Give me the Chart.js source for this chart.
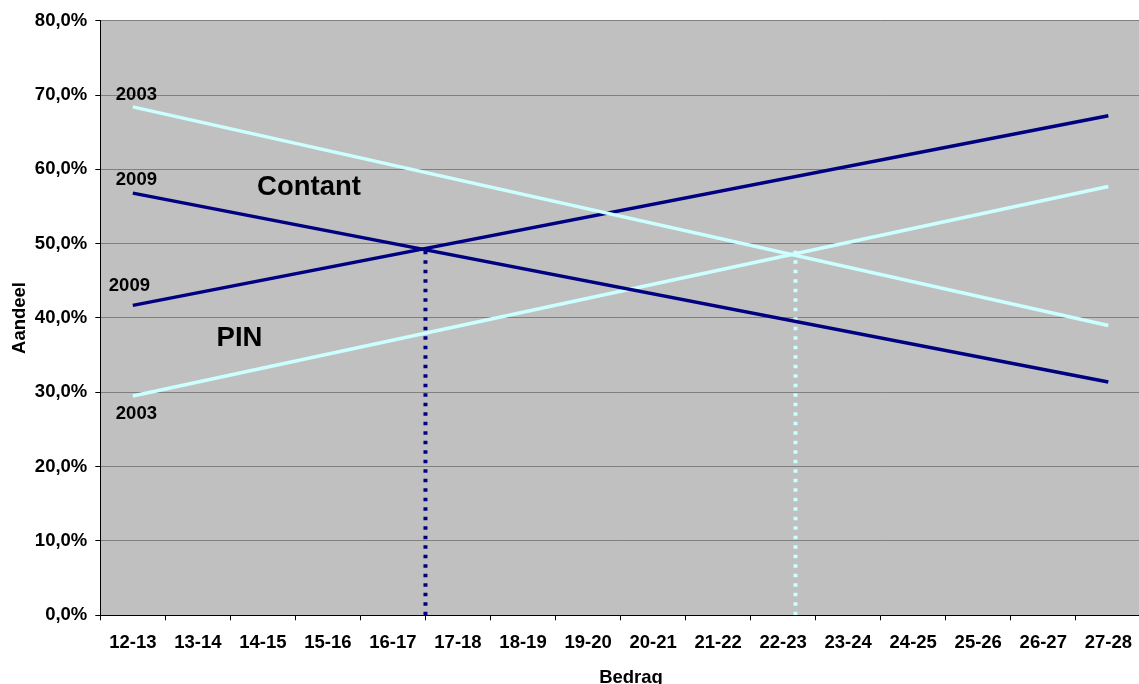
<!DOCTYPE html>
<html>
<head>
<meta charset="utf-8">
<script src="https://cdn.jsdelivr.net/npm/chart.js@4/dist/chart.umd.min.js"></script>
<style>
  html, body { margin: 0; padding: 0; background: #ffffff; overflow: hidden; }
  #wrap { width: 1144px; height: 688px; }
</style>
</head>
<body>
<div id="wrap"><canvas id="c" width="1144" height="688"></canvas></div>
<script>
// Amount brackets (euro) on the horizontal axis
const categories = ['12-13','13-14','14-15','15-16','16-17','17-18','18-19','19-20',
                    '20-21','21-22','22-23','23-24','24-25','25-26','26-27','27-28'];

// Trend lines: share (%) at the first and last bracket
const trendIndex     = [0, 15];
const contant2003    = [68.4, 39.0];
const contant2009    = [56.8, 31.4];
const pin2009        = [41.7, 67.2];
const pin2003        = [29.5, 57.7];

// Break-even points where cash and PIN lines cross (bracket position, share %)
const breakEven2009  = [4.5, 49.4];
const breakEven2003  = [10.19, 49.2];

// Vertical axis ticks
const yMin = 0, yMax = 80, yStep = 10;

const NAVY = '#000080';
const CYAN = '#CCFFFF';
const FONT = "'Liberation Sans', Arial, Helvetica, sans-serif";
const SMALL = 18.5;
const LARGE = 27.5;

function trend(values) {
  return trendIndex.map((x, i) => ({ x: x, y: values[i] }));
}
function dropLine(pt) {
  return [{ x: pt[0], y: 0 }, { x: pt[0], y: pt[1] }];
}

const plotBackground = {
  id: 'plotBackground',
  beforeDraw(chart) {
    const { ctx, chartArea: a } = chart;
    ctx.save();
    ctx.fillStyle = '#C0C0C0';
    ctx.fillRect(a.left, a.top, a.right - a.left, a.bottom - a.top);
    ctx.restore();
  }
};

// Text labels placed next to the trend lines
const lineLabels = {
  id: 'lineLabels',
  afterDatasetsDraw(chart) {
    const { ctx, scales } = chart;
    const xs = scales.x2, ys = scales.y;
    ctx.save();
    ctx.fillStyle = '#000000';
    ctx.textBaseline = 'alphabetic';

    ctx.font = 'bold ' + SMALL + 'px ' + FONT;
    ctx.textAlign = 'left';
    const x0 = xs.getPixelForValue(trendIndex[0]);
    ctx.fillText('2003', x0 - 17, ys.getPixelForValue(contant2003[0]) - 7);
    ctx.fillText('2009', x0 - 17, ys.getPixelForValue(contant2009[0]) - 8);
    ctx.fillText('2009', x0 - 24, ys.getPixelForValue(pin2009[0]) - 14);
    ctx.fillText('2003', x0 - 17, ys.getPixelForValue(pin2003[0]) + 23);

    ctx.font = 'bold ' + LARGE + 'px ' + FONT;
    ctx.textAlign = 'center';
    ctx.fillText('Contant', xs.getPixelForValue(2.71), ys.getPixelForValue(56.5));
    ctx.fillText('PIN', xs.getPixelForValue(1.64), ys.getPixelForValue(36.2));

    // horizontal axis title
    ctx.font = 'bold ' + SMALL + 'px ' + FONT;
    ctx.fillText('Bedrag', 631, 683);
    ctx.restore();
  }
};

const lineStyle = (label, data, color) => ({
  label: label, data: data, xAxisID: 'x2', yAxisID: 'y',
  borderColor: color, backgroundColor: color, borderWidth: 3.5,
  pointRadius: 0, pointHoverRadius: 0, fill: false, tension: 0
});
const dotStyle = (label, data, color) => ({
  label: label, data: data, xAxisID: 'x2', yAxisID: 'y',
  borderColor: color, backgroundColor: color, borderWidth: 4,
  borderDash: [3.5, 6], borderCapStyle: 'butt',
  pointRadius: 0, pointHoverRadius: 0, fill: false
});

new Chart(document.getElementById('c'), {
  type: 'line',
  data: {
    labels: categories,
    datasets: [
      lineStyle('Contant 2003', trend(contant2003), CYAN),
      lineStyle('Contant 2009', trend(contant2009), NAVY),
      lineStyle('PIN 2009', trend(pin2009), NAVY),
      lineStyle('PIN 2003', trend(pin2003), CYAN),
      dotStyle('Omslagpunt 2009', dropLine(breakEven2009), NAVY),
      dotStyle('Omslagpunt 2003', dropLine(breakEven2003), CYAN)
    ]
  },
  options: {
    responsive: false,
    animation: false,
    events: [],
    layout: { padding: { top: 20.7, right: 1, left: 0, bottom: 0 } },
    plugins: { legend: { display: false }, tooltip: { enabled: false } },
    scales: {
      x: {
        type: 'category',
        offset: true,
        grid: { offset: true, drawOnChartArea: false, drawTicks: true, tickLength: 5, tickColor: '#000000' },
        border: { color: '#000000', width: 1 },
        ticks: { color: '#000000', font: { family: FONT, size: SMALL, weight: 'bold' }, padding: 12, maxRotation: 0, autoSkip: false },
        afterFit(scale) { scale.height = 688 - 615.3; }
      },
      x2: {
        type: 'linear',
        display: false,
        min: -0.5,
        max: categories.length - 0.5
      },
      y: {
        min: yMin, max: yMax,
        grid: { color: '#808080', lineWidth: 1, drawTicks: true, tickLength: 5, tickColor: '#000000' },
        border: { color: '#000000', width: 1 },
        ticks: {
          stepSize: yStep, color: '#000000', padding: 8,
          font: { family: FONT, size: SMALL, weight: 'bold' },
          callback: v => v.toFixed(1).replace('.', ',') + '%'
        },
        title: {
          display: true, text: 'Aandeel', color: '#000000',
          font: { family: FONT, size: SMALL, weight: 'bold' },
          padding: { top: 9, bottom: 0 }
        },
        afterFit(scale) { scale.width = 100.3; }
      }
    }
  },
  plugins: [plotBackground, lineLabels]
});
</script>
</body>
</html>
